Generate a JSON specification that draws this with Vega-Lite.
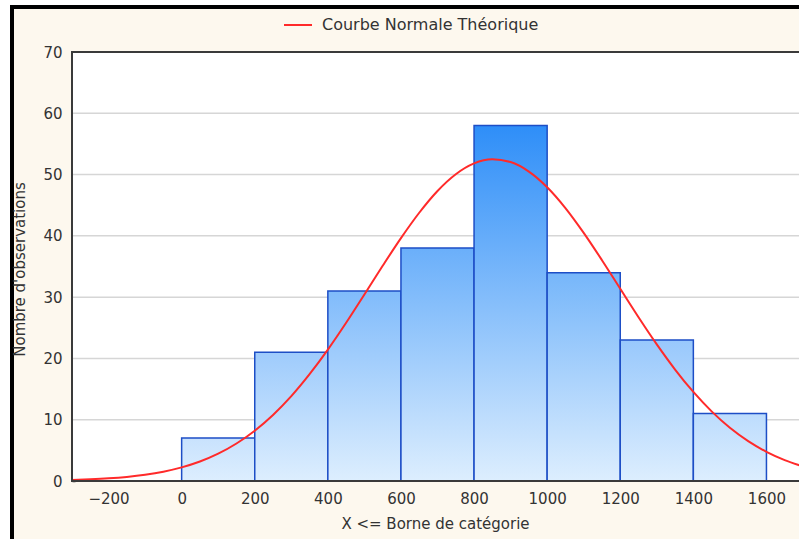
{
  "$schema": "https://vega.github.io/schema/vega-lite/v6.json",
  "autosize": "none",
  "width": 800,
  "height": 540,
  "padding": {"left": 12, "top": 7, "right": 0, "bottom": 0},
  "background": "white",
  "config": {
    "font": "DejaVu Sans",
    "view": {"fill": "#fdf8ee", "stroke": "black", "strokeWidth": 4},
    "axis": {"labelFontSize": 15, "labelColor": "#333", "titleColor": "#333", "titleFontSize": 15, "titleFontWeight": "normal", "tickColor": "#333", "tickWidth": 1.5, "domain": false, "grid": false}
  },
  "datasets": {
    "bars": [
      {"lo": 0, "hi": 200, "n": 7},
      {"lo": 200, "hi": 400, "n": 21},
      {"lo": 400, "hi": 600, "n": 31},
      {"lo": 600, "hi": 800, "n": 38},
      {"lo": 800, "hi": 1000, "n": 58},
      {"lo": 1000, "hi": 1200, "n": 34},
      {"lo": 1200, "hi": 1400, "n": 23},
      {"lo": 1400, "hi": 1600, "n": 11}
    ],
    "curve": [
      {"x": -300, "y": 0.16}, {"x": -250, "y": 0.27}, {"x": -200, "y": 0.43}, {"x": -150, "y": 0.67},
      {"x": -100, "y": 1.02}, {"x": -50, "y": 1.52}, {"x": 0, "y": 2.22}, {"x": 50, "y": 3.18},
      {"x": 100, "y": 4.46}, {"x": 150, "y": 6.12}, {"x": 200, "y": 8.21}, {"x": 250, "y": 10.78},
      {"x": 300, "y": 13.85}, {"x": 350, "y": 17.43}, {"x": 400, "y": 21.44}, {"x": 450, "y": 25.82},
      {"x": 500, "y": 30.44}, {"x": 550, "y": 35.11}, {"x": 600, "y": 39.63}, {"x": 650, "y": 43.77},
      {"x": 700, "y": 47.32}, {"x": 750, "y": 50.05}, {"x": 800, "y": 51.82}, {"x": 850, "y": 52.49},
      {"x": 900, "y": 52.04}, {"x": 950, "y": 50.49}, {"x": 1000, "y": 47.94}, {"x": 1050, "y": 44.54},
      {"x": 1100, "y": 40.49}, {"x": 1150, "y": 36.03}, {"x": 1200, "y": 31.37}, {"x": 1250, "y": 26.73},
      {"x": 1300, "y": 22.29}, {"x": 1350, "y": 18.19}, {"x": 1400, "y": 14.53}, {"x": 1450, "y": 11.36},
      {"x": 1500, "y": 8.68}, {"x": 1550, "y": 6.5}, {"x": 1600, "y": 4.76}, {"x": 1650, "y": 3.41},
      {"x": 1700, "y": 2.39}
    ],
    "grid": [{"g": 10}, {"g": 20}, {"g": 30}, {"g": 40}, {"g": 50}, {"g": 60}]
  },
  "resolve": {"axis": {"x": "independent", "y": "independent"}},
  "layer": [
    {
      "data": {"values": [{}]},
      "mark": {"type": "rect", "fill": "white", "strokeWidth": 0},
      "encoding": {
        "x": {"datum": -300, "type": "quantitative", "scale": {"domain": [-464.16, 1724.62], "nice": false, "zero": false}, "axis": null},
        "x2": {"datum": 1700},
        "y": {"datum": 0, "type": "quantitative", "scale": {"domain": [-10.769, 77.343], "nice": false, "zero": false}, "axis": null},
        "y2": {"datum": 70}
      }
    },
    {
      "data": {"name": "grid"},
      "mark": {"type": "rule", "color": "#d6d6d6", "strokeWidth": 1.5},
      "encoding": {
        "x": {"datum": -300, "type": "quantitative", "scale": {"domain": [-464.16, 1724.62], "nice": false, "zero": false}, "axis": null},
        "x2": {"datum": 1700},
        "y": {"field": "g", "type": "quantitative", "scale": {"domain": [-10.769, 77.343], "nice": false, "zero": false}, "axis": null}
      }
    },
    {
      "data": {"name": "bars"},
      "mark": {"type": "bar", "stroke": "#1d4ec6", "strokeWidth": 1.5},
      "encoding": {
        "x": {
          "field": "lo", "type": "quantitative",
          "scale": {"domain": [-464.16, 1724.62], "nice": false, "zero": false},
          "axis": {"orient": "bottom", "offset": -69, "values": [-200, 0, 200, 400, 600, 800, 1000, 1200, 1400, 1600], "format": "d", "tickSize": 3, "labelPadding": 10, "title": "X <= Borne de catégorie", "titlePadding": 10, "titleX": 423}
        },
        "x2": {"field": "hi"},
        "y": {
          "field": "n", "type": "quantitative",
          "scale": {"domain": [-10.769, 77.343], "nice": false, "zero": false},
          "axis": {"orient": "left", "offset": -63, "values": [0, 10, 20, 30, 40, 50, 60, 70], "tickSize": 3, "labelPadding": 10, "title": "Nombre d'observations", "titlePadding": 15, "titleY": 262}
        },
        "y2": {"datum": 0},
        "color": {
          "condition": [
            {"test": "datum.lo == 0", "value": {"gradient": "linear", "x1": 0, "y1": 0, "x2": 0, "y2": 1, "stops": [{"offset": 0, "color": "#c8e2fd"}, {"offset": 1, "color": "#ddeefe"}]}},
            {"test": "datum.lo == 200", "value": {"gradient": "linear", "x1": 0, "y1": 0, "x2": 0, "y2": 1, "stops": [{"offset": 0, "color": "#9ecbfc"}, {"offset": 1, "color": "#ddeefe"}]}},
            {"test": "datum.lo == 400", "value": {"gradient": "linear", "x1": 0, "y1": 0, "x2": 0, "y2": 1, "stops": [{"offset": 0, "color": "#80bbfb"}, {"offset": 1, "color": "#ddeefe"}]}},
            {"test": "datum.lo == 600", "value": {"gradient": "linear", "x1": 0, "y1": 0, "x2": 0, "y2": 1, "stops": [{"offset": 0, "color": "#6aaffa"}, {"offset": 1, "color": "#ddeefe"}]}},
            {"test": "datum.lo == 800", "value": {"gradient": "linear", "x1": 0, "y1": 0, "x2": 0, "y2": 1, "stops": [{"offset": 0, "color": "#2e8ef8"}, {"offset": 1, "color": "#ddeefe"}]}},
            {"test": "datum.lo == 1000", "value": {"gradient": "linear", "x1": 0, "y1": 0, "x2": 0, "y2": 1, "stops": [{"offset": 0, "color": "#76b6fa"}, {"offset": 1, "color": "#ddeefe"}]}},
            {"test": "datum.lo == 1200", "value": {"gradient": "linear", "x1": 0, "y1": 0, "x2": 0, "y2": 1, "stops": [{"offset": 0, "color": "#98c8fc"}, {"offset": 1, "color": "#ddeefe"}]}}
          ],
          "value": {"gradient": "linear", "x1": 0, "y1": 0, "x2": 0, "y2": 1, "stops": [{"offset": 0, "color": "#bcdcfd"}, {"offset": 1, "color": "#ddeefe"}]}
        }
      }
    },
    {
      "data": {"name": "curve"},
      "mark": {"type": "line", "strokeWidth": 2, "interpolate": "monotone"},
      "encoding": {
        "x": {
          "field": "x", "type": "quantitative",
          "scale": {"domain": [-464.16, 1724.62], "nice": false, "zero": false},
          "axis": {"orient": "top", "offset": -48, "values": [-200, 0, 200, 400, 600, 800, 1000, 1200, 1400, 1600], "labels": false, "tickSize": 3, "title": null}
        },
        "y": {"field": "y", "type": "quantitative", "scale": {"domain": [-10.769, 77.343], "nice": false, "zero": false}, "axis": null},
        "color": {
          "datum": "Courbe Normale Théorique",
          "scale": {"range": ["#ff2a2a"]},
          "legend": {"orient": "none", "legendX": 271, "legendY": 3, "title": null, "symbolType": "stroke", "symbolSize": 784, "symbolStrokeWidth": 2, "labelFontSize": 16, "labelColor": "#333", "labelOffset": 9, "labelLimit": 400}
        }
      }
    },
    {
      "data": {"values": [{}]},
      "mark": {"type": "rect", "fillOpacity": 0, "fill": "white", "stroke": "#3a3a3a", "strokeWidth": 2},
      "encoding": {
        "x": {"datum": -300, "type": "quantitative", "scale": {"domain": [-464.16, 1724.62], "nice": false, "zero": false}, "axis": null},
        "x2": {"datum": 1700},
        "y": {"datum": 0, "type": "quantitative", "scale": {"domain": [-10.769, 77.343], "nice": false, "zero": false}, "axis": null},
        "y2": {"datum": 70}
      }
    }
  ]
}
